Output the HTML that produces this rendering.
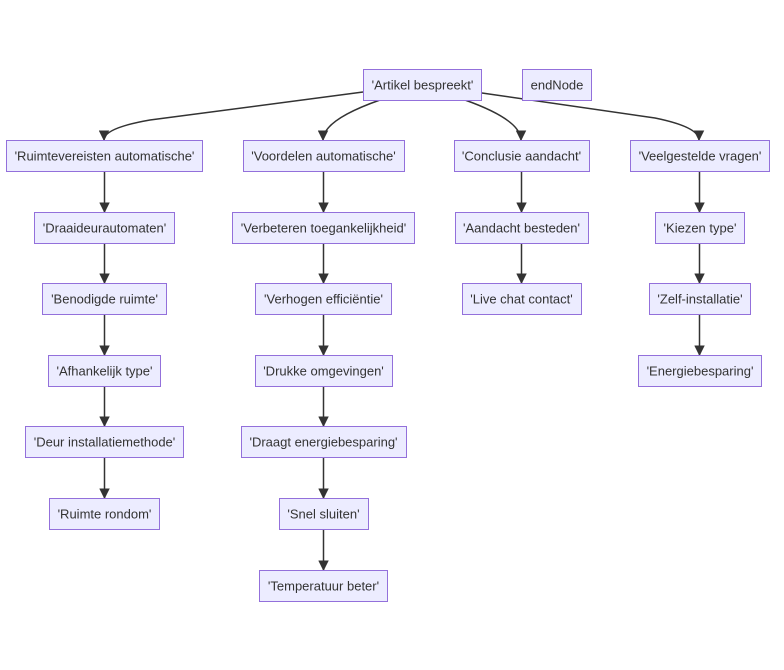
<!DOCTYPE html>
<html><head><meta charset="utf-8"><style>
html,body{margin:0;padding:0;background:#fff;width:784px;height:670px;overflow:hidden}
svg text{font-family:"Liberation Sans",sans-serif;font-size:13px;fill:#333;text-anchor:middle;dominant-baseline:central}
rect{fill:#ECECFF;stroke:#9370DB;stroke-width:1}
path.e{fill:none;stroke:#333;stroke-width:1.5}
</style></head><body>
<svg width="784" height="670" viewBox="0 0 784 670" xmlns="http://www.w3.org/2000/svg">
<defs><marker id="a" viewBox="0 0 10 10" refX="9" refY="5" markerWidth="7" markerHeight="7" orient="auto"><path d="M0,0 L10,5 L0,10 z" fill="#333"/></marker></defs>
<g>
<path class="e" marker-end="url(#a)" d="M363,92 L150,120 Q104,128 104,140"/>
<path class="e" marker-end="url(#a)" d="M380,100 Q323,120 323,140"/>
<path class="e" marker-end="url(#a)" d="M465,100 Q521,120 521,140"/>
<path class="e" marker-end="url(#a)" d="M482,93 L655,118 Q699,127 699,140"/>
<path class="e" marker-end="url(#a)" d="M104.5,171V212"/>
<path class="e" marker-end="url(#a)" d="M104.5,243V283"/>
<path class="e" marker-end="url(#a)" d="M104.5,314V355"/>
<path class="e" marker-end="url(#a)" d="M104.5,386V426"/>
<path class="e" marker-end="url(#a)" d="M104.5,457V498"/>
<path class="e" marker-end="url(#a)" d="M323.5,171V212"/>
<path class="e" marker-end="url(#a)" d="M323.5,243V283"/>
<path class="e" marker-end="url(#a)" d="M323.5,314V355"/>
<path class="e" marker-end="url(#a)" d="M323.5,386V426"/>
<path class="e" marker-end="url(#a)" d="M323.5,457V498"/>
<path class="e" marker-end="url(#a)" d="M323.5,529V570"/>
<path class="e" marker-end="url(#a)" d="M521.5,171V212"/>
<path class="e" marker-end="url(#a)" d="M521.5,243V283"/>
<path class="e" marker-end="url(#a)" d="M699.5,171V212"/>
<path class="e" marker-end="url(#a)" d="M699.5,243V283"/>
<path class="e" marker-end="url(#a)" d="M699.5,314V355"/>
</g>
<g>
<rect x="363.5" y="69.5" width="118" height="31"/><text x="422.5" y="85">'Artikel bespreekt'</text>
<rect x="522.5" y="69.5" width="69" height="31"/><text x="557" y="85">endNode</text>

<rect x="6.5" y="140.5" width="196" height="31"/><text x="104.5" y="156">'Ruimtevereisten automatische'</text>
<rect x="34.5" y="212.5" width="140" height="31"/><text x="104.5" y="228">'Draaideurautomaten'</text>
<rect x="42.5" y="283.5" width="124" height="31"/><text x="104.5" y="299">'Benodigde ruimte'</text>
<rect x="48.5" y="355.5" width="112" height="31"/><text x="104.5" y="371">'Afhankelijk type'</text>
<rect x="25.5" y="426.5" width="158" height="31"/><text x="104.5" y="442">'Deur installatiemethode'</text>
<rect x="49.5" y="498.5" width="110" height="31"/><text x="104.5" y="514">'Ruimte rondom'</text>

<rect x="243.5" y="140.5" width="161" height="31"/><text x="323.5" y="156">'Voordelen automatische'</text>
<rect x="232.5" y="212.5" width="182" height="31"/><text x="323.5" y="228">'Verbeteren toegankelijkheid'</text>
<rect x="255.5" y="283.5" width="136" height="31"/><text x="323.5" y="299">'Verhogen efficiëntie'</text>
<rect x="255.5" y="355.5" width="137" height="31"/><text x="323.5" y="371">'Drukke omgevingen'</text>
<rect x="241.5" y="426.5" width="165" height="31"/><text x="323.5" y="442">'Draagt energiebesparing'</text>
<rect x="279.5" y="498.5" width="89" height="31"/><text x="323.5" y="514">'Snel sluiten'</text>
<rect x="259.5" y="570.5" width="128" height="31"/><text x="323.5" y="586">'Temperatuur beter'</text>

<rect x="454.5" y="140.5" width="135" height="31"/><text x="521.5" y="156">'Conclusie aandacht'</text>
<rect x="455.5" y="212.5" width="133" height="31"/><text x="521.5" y="228">'Aandacht besteden'</text>
<rect x="462.5" y="283.5" width="119" height="31"/><text x="521.5" y="299">'Live chat contact'</text>

<rect x="630.5" y="140.5" width="139" height="31"/><text x="700" y="156">'Veelgestelde vragen'</text>
<rect x="655.5" y="212.5" width="89" height="31"/><text x="700" y="228">'Kiezen type'</text>
<rect x="649.5" y="283.5" width="101" height="31"/><text x="700" y="299">'Zelf-installatie'</text>
<rect x="638.5" y="355.5" width="123" height="31"/><text x="700" y="371">'Energiebesparing'</text>
</g>
</svg>
</body></html>
